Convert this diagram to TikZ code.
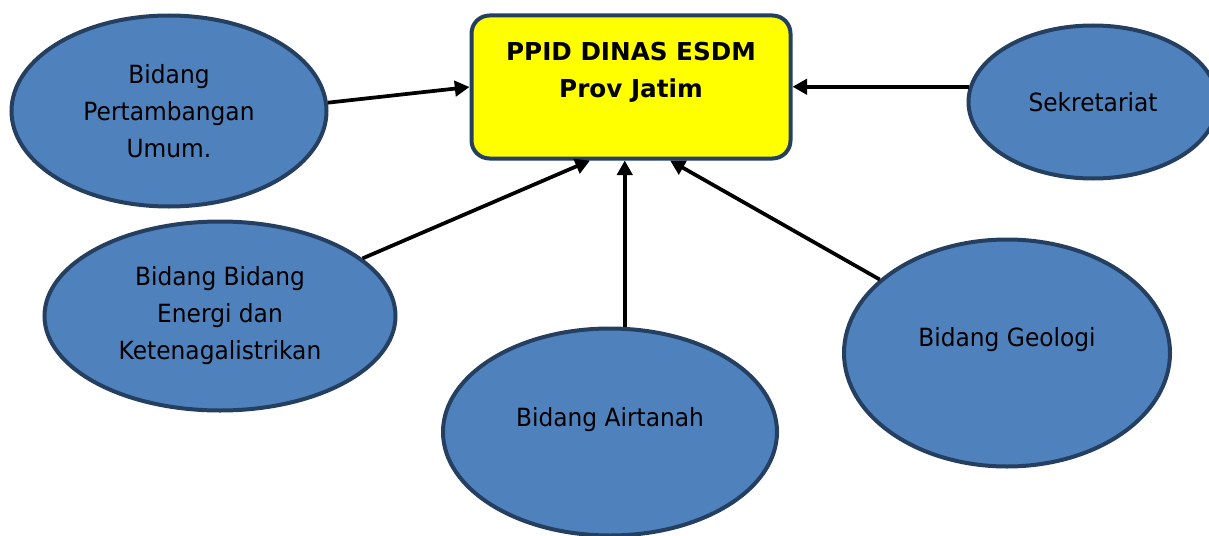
\documentclass[tikz,border=0pt]{standalone}
\usepackage{fontspec}
\setmainfont{DejaVu Sans}[FakeStretch=0.93]
\newfontfamily\boxfont{DejaVu Sans}
\usetikzlibrary{shapes.geometric,arrows.meta,calc}
\definecolor{eblue}{HTML}{4F81BD}
\definecolor{edgeblue}{HTML}{243F60}
\definecolor{hubyellow}{HTML}{FFFF00}
\begin{document}
\begin{tikzpicture}[x=0.75pt,y=-0.75pt,
  ell/.style={ellipse, draw=edgeblue, line width=3pt, fill=eblue, inner sep=0pt, align=center,
    font=\fontsize{18.8}{27.75}\selectfont},
  lbl/.style={font=\fontsize{18.8}{27.75}\selectfont, align=center},
  hub/.style={rectangle, rounded corners=13.5pt, draw=edgeblue, line width=3pt, fill=hubyellow,
    minimum width=239.25pt, minimum height=107.25pt},
  conn/.style={line width=2.8pt, -{Triangle[length=11pt,width=11.5pt]}}]
\useasboundingbox (0,0) rectangle (1209,535);
\node[hub, label={[font=\boxfont\bfseries\fontsize{18.5}{27.75}\selectfont, align=center, yshift=10.9pt]center:PPID DINAS ESDM\\Prov Jatim}] (box) at (631,87) {};
\node[ell, minimum width=236.25pt, minimum height=143.25pt] (e1) at (169,111) {Bidang\\Pertambangan\\Umum.};
\node[ell, minimum width=263.25pt, minimum height=141.75pt] (e2) at (220,316) {Bidang Bidang\\Energi dan\\Ketenagalistrikan};
\node[ell, minimum width=250.5pt, minimum height=155.25pt, label={[lbl, yshift=9pt]center:Bidang Airtanah}] (e3) at (610,432) {};
\node[ell, minimum width=244.5pt, minimum height=170.25pt, label={[lbl, yshift=9.75pt]center:Bidang Geologi}] (e4) at (1007,353) {};
\node[ell, minimum width=186.75pt, minimum height=114.75pt] (e5) at (1093,102) {Sekretariat};
\draw[conn] (e1.3) -- (box.west);
\draw[conn] (e2.22) -- ($(box.south west)!0.373!(box.south east)$);
\draw[conn] (e3.82) -- (e3.82 |- box.south);
\draw[conn] (e4.150) -- ($(box.south west)!0.621!(box.south east)$);
\draw[conn] (e5.173) -- (e5.173 -| box.east);
\end{tikzpicture}
\end{document}
